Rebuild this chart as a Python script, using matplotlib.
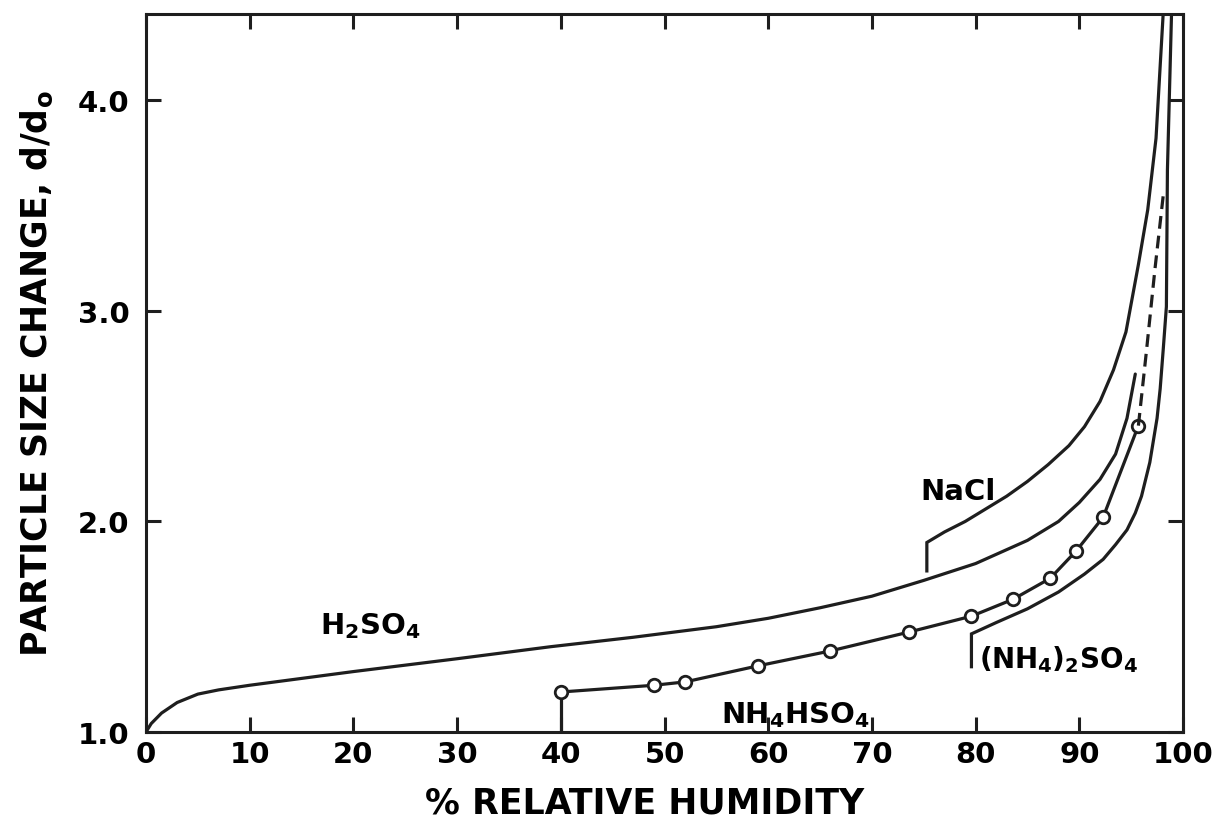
import matplotlib
matplotlib.use("Agg")
import matplotlib.pyplot as plt

plt.rcParams['font.family'] = ['DejaVu Sans']
plt.rcParams['font.weight'] = 'bold'
plt.rcParams['axes.labelweight'] = 'bold'
plt.rcParams['mathtext.fontset'] = 'dejavusans'
plt.rcParams['mathtext.default'] = 'bf'

# curves: % relative humidity vs d/d0
h2so4_rh = [0, 0.5, 1.5, 3, 5, 7, 10, 20, 30, 39, 47, 55, 60, 65, 70, 75,
            80, 85, 88, 90, 92, 93.5, 94.6, 95.4]
h2so4_d = [1.0, 1.04, 1.09, 1.14, 1.18, 1.2, 1.222, 1.287, 1.348, 1.405,
           1.45, 1.5, 1.54, 1.59, 1.645, 1.72, 1.8, 1.91, 2.0, 2.09, 2.2,
           2.32, 2.49, 2.7]

nacl_rh = [75.3, 75.3, 77, 79, 81, 83, 85, 87, 89, 90.5, 92, 93.3, 94.5,
           95.7, 96.6, 97.4, 98.1]
nacl_d = [1.765, 1.9, 1.95, 2.0, 2.06, 2.12, 2.19, 2.27, 2.36, 2.45, 2.57,
          2.72, 2.9, 3.22, 3.48, 3.82, 4.42]

amsulf_rh = [79.6, 79.6, 82, 85, 88, 90.5, 92.3, 93.5, 94.6, 95.4, 96.0,
             96.8, 97.5, 97.8, 98.1, 98.4, 98.5, 98.9]
amsulf_d = [1.31, 1.466, 1.52, 1.585, 1.665, 1.75, 1.82, 1.89, 1.96, 2.04,
            2.12, 2.28, 2.49, 2.63, 2.82, 3.02, 3.67, 4.42]

# NH4HSO4 measured points (open circles)
bisulf_rh = [40, 49, 52, 59, 66, 73.6, 79.6, 83.6, 87.2, 89.7, 92.3, 95.7]
bisulf_d = [1.19, 1.222, 1.238, 1.314, 1.385, 1.475, 1.55, 1.63, 1.73, 1.86,
            2.02, 2.455]
bisulf_ext_rh = [95.7, 96.5, 97.3, 98.1]
bisulf_ext_d = [2.455, 2.82, 3.2, 3.55]

ink = '#1e1e1e'
lw = 2.3
fig = plt.figure(figsize=(12.25, 8.29), dpi=100)
ax = fig.add_axes([0.1192, 0.1158, 0.8465, 0.8661])

ax.plot(h2so4_rh, h2so4_d, color=ink, lw=lw, solid_capstyle='round')
ax.plot(nacl_rh, nacl_d, color=ink, lw=lw, solid_joinstyle='miter')
ax.plot(amsulf_rh, amsulf_d, color=ink, lw=lw, solid_joinstyle='miter')
ax.plot([bisulf_rh[0], bisulf_rh[0]], [1.0, bisulf_d[0]], color=ink, lw=lw)
ax.plot(bisulf_rh, bisulf_d, color=ink, lw=lw, marker='o', ms=9,
        mfc='white', mec=ink, mew=2.0)
ax.plot(bisulf_ext_rh, bisulf_ext_d, color=ink, lw=lw, ls=(0, (4, 2.2)))

ax.set_xlim(0, 100)
ax.set_ylim(1.0, 4.41)
ax.set_xticks(range(0, 101, 10))
ax.set_yticks([1.0, 2.0, 3.0, 4.0])
ax.set_yticklabels(['1.0', '2.0', '3.0', '4.0'])

for s in ax.spines.values():
    s.set_linewidth(2.2)
    s.set_color(ink)

ax.tick_params(direction='in', length=11, width=2.2, color=ink,
               labelsize=21, top=True, right=True)
ax.tick_params(axis='x', pad=6)
ax.tick_params(axis='y', pad=12)

ax.set_xlabel('% RELATIVE HUMIDITY', fontsize=25)
ax.xaxis.set_label_coords(0.481, -0.075)
ax.set_ylabel('PARTICLE SIZE CHANGE, d/d$_{o}$', fontsize=25, labelpad=16)

ax.text(21.6, 1.51, 'H$_2$SO$_4$', fontsize=21, ha='center', va='center')
ax.text(78.3, 2.145, 'NaCl', fontsize=21, ha='center', va='center')
ax.text(62.6, 1.085, 'NH$_4$HSO$_4$', fontsize=21, ha='center', va='center')
ax.text(80.3, 1.35, '(NH$_4$)$_2$SO$_4$', fontsize=20, ha='left', va='center')

fig.savefig('out.png', dpi=100)
